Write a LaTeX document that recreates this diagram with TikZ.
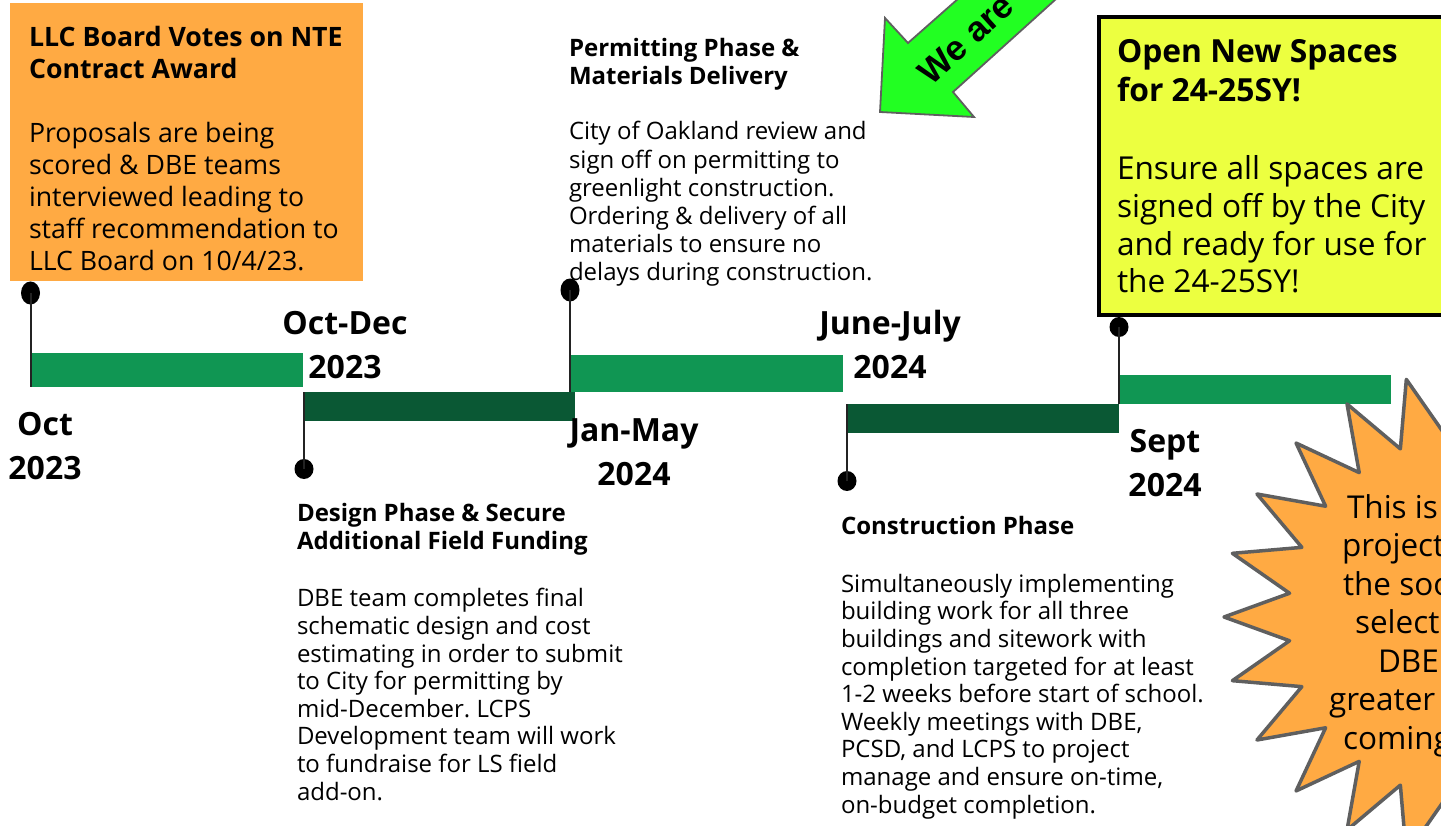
\documentclass[tikz,border=0pt]{standalone}
\usepackage{fontspec}
\setmainfont{Open Sans}
\newfontfamily\arialfont{Liberation Sans}
\usetikzlibrary{shapes.geometric}
\frenchspacing

\definecolor{boxorange}{RGB}{255,170,67}
\definecolor{barlight}{RGB}{16,150,83}
\definecolor{bardark}{RGB}{10,88,52}
\definecolor{boxyellow}{RGB}{236,255,64}
\definecolor{arrowgreen}{RGB}{34,255,34}
\definecolor{edgegray}{RGB}{95,95,95}
\definecolor{pinline}{RGB}{35,35,35}

\newcommand{\setsize}[2]{\fontsize{#1}{#2}\selectfont}

% multi-line nodes are placed by the baseline of their LAST line
\tikzset{
  txt/.style={inner sep=0pt, outer sep=0pt, anchor=base west, align=left},
  smalltitle/.style={txt, font=\bfseries\setsize{24}{27.8}},
  smallbody/.style={txt, font=\setsize{24}{27.8}},
  datelbl/.style={inner sep=0pt, outer sep=0pt, anchor=base, align=center,
                  font=\bfseries\setsize{32}{43.5}},
  bar/.style={inner sep=0pt, outer sep=0pt, anchor=north west, draw=none},
  lightbar/.style={bar, fill=barlight},
  darkbar/.style={bar, fill=bardark},
  pin/.style={draw=pinline, line width=2pt},
  dot/.style={ellipse, fill=black, inner sep=0pt, minimum width=19pt},
  bursttxt/.style={inner sep=0pt, outer sep=0pt, anchor=base west,
                   font=\setsize{31.5}{38.5}},
}

\begin{document}
\begin{tikzpicture}[x=1pt, y=-1pt]
\useasboundingbox (0,0) rectangle (1441,826);
\clip (0,0) rectangle (1441,826);

% ---------- orange decision box ----------
\node[fill=boxorange, inner sep=0pt, minimum width=353pt, minimum height=278pt,
      anchor=north west] (llc) at (10,3) {};
\node[txt, font=\bfseries\setsize{26.7}{32}] (llc-title) at (29,79)
  {LLC Board Votes on NTE\\Contract Award};
\node[txt, font=\setsize{26.7}{32.2}] (llc-body) at (29,271)
  {Proposals are being\\scored \& DBE teams\\interviewed leading to\\staff recommendation to\\LLC Board on 10/4/23.};

% ---------- yellow milestone box ----------
\draw[fill=boxyellow, draw=black, line width=4pt] (1099,17) rectangle (1470,315);
\node[txt, font=\bfseries\setsize{31.8}{39}] (open-title) at (1117,102)
  {Open New Spaces\\for 24-25SY!};
\node[txt, font=\setsize{31.6}{37.7}] (open-body) at (1117,293)
  {Ensure all spaces are\\signed off by the City\\and ready for use for\\the 24-25SY!};

% ---------- phase descriptions ----------
\node[smalltitle, font=\bfseries\setsize{24}{28}] (permit-title) at (569,85)
  {Permitting Phase \&\\Materials Delivery};
\node[smallbody, font=\setsize{24}{28.2}] (permit-body) at (569,281)
  {City of Oakland review and\\sign off on permitting to\\greenlight construction.\\Ordering \& delivery of all\\materials to ensure no\\delays during construction.};

\node[smalltitle] (design-title) at (297,549) {Design Phase \& Secure\\Additional Field Funding};
\node[smallbody, font=\setsize{24}{27.6}] (design-body) at (297,800)
  {DBE team completes final\\schematic design and cost\\estimating in order to submit\\to City for permitting by\\mid-December. LCPS\\Development team will work\\to fundraise for LS field\\add-on.};

\node[smalltitle] (build-title) at (841,534) {Construction Phase};
\node[smallbody, font=\setsize{24}{27.6}] (build-body) at (841,813)
  {Simultaneously implementing\\building work for all three\\buildings and sitework with\\completion targeted for at least\\1-2 weeks before start of school.\\Weekly meetings with DBE,\\PCSD, and LCPS to project\\manage and ensure on-time,\\on-budget completion.};

% ---------- timeline bars ----------
\node[lightbar, minimum width=272pt, minimum height=34pt] (b1) at (31,353) {};
\node[darkbar,  minimum width=272pt, minimum height=29pt] (b2) at (303,392) {};
\node[lightbar, minimum width=273pt, minimum height=37pt] (b3) at (570,355) {};
\node[darkbar,  minimum width=272pt, minimum height=29pt] (b4) at (847,404) {};
\node[lightbar, minimum width=272pt, minimum height=29pt] (b5) at (1119,375) {};

% ---------- date labels ----------
\node[datelbl] (d-oct)   at (45,479)   {Oct\\2023};
\node[datelbl] (d-q4)    at (345,378)  {Oct-Dec\\2023};
\node[datelbl] (d-jan)   at (634,485)  {Jan-May\\2024};
\node[datelbl] (d-june)  at (890,378)  {June-July\\2024};
\node[datelbl] (d-sept)  at (1165,496) {Sept\\2024};

% ---------- pins ----------
\node[dot, minimum height=23pt] (p1) at (30.5,293) {};
\node[dot, minimum height=20pt] (p2) at (304,469) {};
\node[dot, minimum height=23pt] (p3) at (570,290) {};
\node[dot, minimum height=20pt] (p4) at (847,481) {};
\node[dot, minimum height=20pt] (p5) at (1119,327) {};
\draw[pin] (p1.center) -- (p1.center |- b1.south);
\draw[pin] (p2.center |- b2.north) -- (p2.center);
\draw[pin] (p3.center) -- (p3.center |- b3.south);
\draw[pin] (p4.center |- b4.north) -- (p4.center);
\draw[pin] (p5.center) -- (p5.center |- b5.south);

% ---------- "we are" arrow ----------
\filldraw[fill=arrowgreen, draw=edgegray, line width=1.8pt, line join=miter]
  (880,112) -- (885,18) -- (908,43) -- (1010,-47) -- (1107,-47)
  -- (953,92) -- (974,117) -- cycle;
\node[rotate=42, inner sep=0pt, font=\arialfont\bfseries\setsize{35}{40}]
  (here) at (966,39) {We are};

% ---------- starburst ----------
\begin{scope}[shift={(1470,617)}]
  \filldraw[fill=boxorange, draw=edgegray, line width=3.5pt, line join=round]
    (180:246) \foreach \k in {1,...,47} { -- ({180+\k*7.5}:{214+32*cos(\k*180)}) } -- cycle;
\end{scope}
\node[bursttxt] (burst-1) at (1347,518)   {This is};
\node[bursttxt] (burst-2) at (1342,556.5) {project};
\node[bursttxt] (burst-3) at (1343,595)   {the soo};
\node[bursttxt] (burst-4) at (1355,633.5) {select};
\node[bursttxt] (burst-5) at (1378,672)   {DBE};
\node[bursttxt] (burst-6) at (1329,710.5) {greater};
\node[bursttxt] (burst-7) at (1343,749)   {coming};
\end{tikzpicture}
\end{document}
